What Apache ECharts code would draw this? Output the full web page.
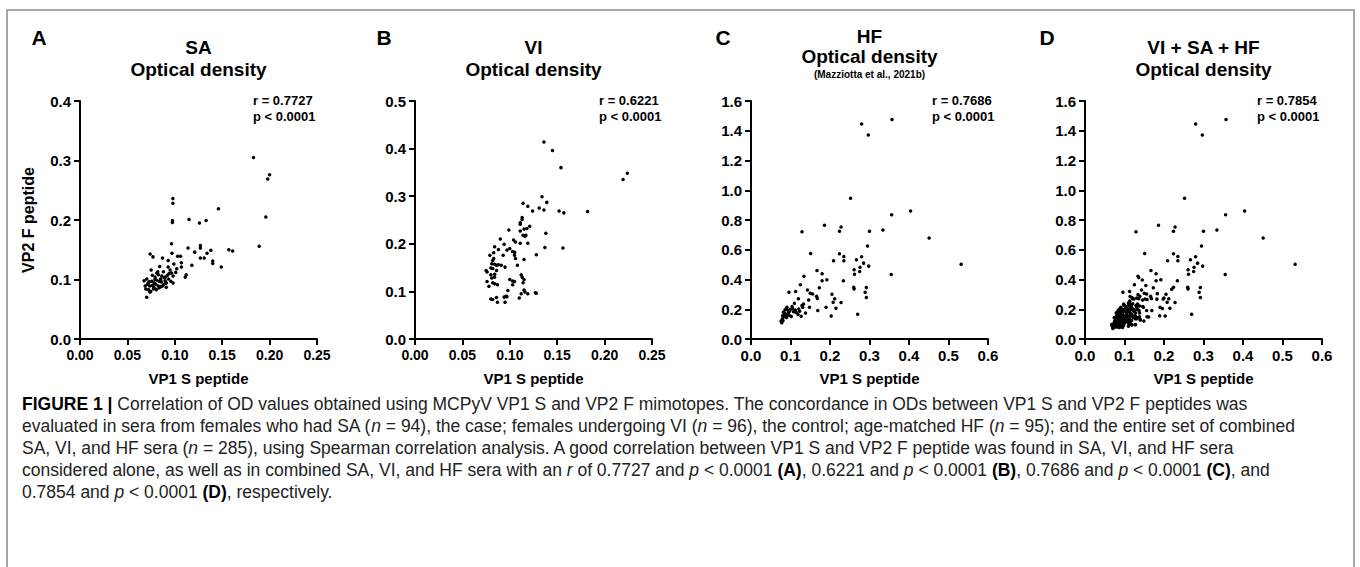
<!DOCTYPE html>
<html>
<head>
<meta charset="utf-8">
<script src="https://cdn.jsdelivr.net/npm/echarts/dist/echarts.min.js"></script>
<style>
  html, body { margin: 0; padding: 0; background: #fff; }
  #chart { width: 1360px; height: 567px; }
</style>
</head>
<body>
<div id="chart"></div>
<script>
// ---------- DATA ----------
const panelLetters = ['A', 'B', 'C', 'D'];
const panelTitles = ['SA\nOptical density', 'VI\nOptical density', 'HF\nOptical density', 'VI + SA + HF\nOptical density'];
const stats = [['r = 0.7727', 'p < 0.0001'], ['r = 0.6221', 'p < 0.0001'], ['r = 0.7686', 'p < 0.0001'], ['r = 0.7854', 'p < 0.0001']];
const xAxisName = 'VP1 S peptide';
const yAxisName = 'VP2 F peptide';
const xMax = [0.25, 0.25, 0.6, 0.6];
const xStep = [0.05, 0.05, 0.1, 0.1];
const yMax = [0.4, 0.5, 1.6, 1.6];
const yStep = [0.1, 0.1, 0.2, 0.2];

// SA (n = 94)
const saX = [0.098,0.098,0.0975,0.0975,0.146,0.115,0.126,0.133,0.0965,0.114,0.127,0.127,0.138,0.157,0.161,0.074,0.077,0.087,0.097,0.103,0.106,0.121,0.134,0.127,0.131,0.140,0.140,0.149,0.093,0.099,0.107,0.107,0.118,0.112,0.111,0.084,0.093,0.102,0.075,0.081,0.183,0.200,0.198,0.196,0.189,
  0.0676,0.0704,0.0764,0.0792,0.0827,0.0863,0.0887,0.0922,0.0940,0.0965,0.0982,0.0729,0.0757,0.0782,0.0806,0.0834,0.0859,0.0898,0.0933,0.0958,0.0687,0.0711,0.0736,0.0764,0.0799,0.0827,0.0852,0.0887,0.0912,0.0694,0.0722,0.0746,0.0775,0.0806,0.0834,0.0870,0.0982,0.0736,0.0704,
  0.079,0.085,0.090,0.072,0.082,0.088,0.095,0.078,0.101,0.091];
const saY = [0.236,0.228,0.199,0.196,0.219,0.201,0.195,0.199,0.160,0.153,0.157,0.153,0.149,0.150,0.148,0.143,0.138,0.136,0.144,0.139,0.139,0.146,0.144,0.136,0.136,0.131,0.127,0.121,0.132,0.126,0.128,0.121,0.124,0.108,0.104,0.122,0.121,0.118,0.116,0.111,0.305,0.276,0.269,0.205,0.156,
  0.098,0.101,0.107,0.104,0.108,0.106,0.103,0.107,0.110,0.111,0.106,0.096,0.097,0.094,0.099,0.097,0.096,0.098,0.101,0.097,0.089,0.092,0.089,0.090,0.092,0.089,0.088,0.092,0.094,0.084,0.083,0.080,0.084,0.083,0.086,0.089,0.094,0.079,0.070,
  0.100,0.101,0.104,0.094,0.113,0.113,0.116,0.087,0.112,0.087];

// VI (n = 96)
const viX = [0.136,0.145,0.154,0.134,0.114,0.119,0.139,0.131,0.136,0.124,0.152,0.157,0.113,0.113,0.111,0.111,0.121,0.118,0.115,0.099,0.111,0.114,0.116,0.117,0.138,0.090,0.104,0.106,0.111,0.119,0.084,0.094,0.137,0.156,0.088,0.097,0.100,0.103,0.105,0.083,0.079,0.128,0.093,0.105,0.083,0.082,0.115,0.106,0.081,0.084,0.086,0.088,0.091,0.095,0.108,0.080,0.082,0.075,0.076,0.086,0.080,0.084,0.112,0.113,0.081,0.084,0.100,0.103,0.105,0.115,0.114,0.076,0.082,0.084,0.078,0.087,0.103,0.098,0.115,0.116,0.112,0.119,0.127,0.128,0.080,0.082,0.086,0.087,0.094,0.096,0.095,0.097,0.110,0.2195,0.224,0.182];
const viY = [0.414,0.396,0.360,0.299,0.285,0.279,0.287,0.275,0.271,0.269,0.269,0.265,0.255,0.251,0.244,0.241,0.237,0.232,0.231,0.229,0.227,0.218,0.216,0.218,0.222,0.210,0.208,0.204,0.201,0.201,0.194,0.199,0.192,0.191,0.188,0.187,0.190,0.184,0.182,0.181,0.176,0.177,0.176,0.176,0.169,0.165,0.167,0.169,0.158,0.157,0.155,0.156,0.155,0.151,0.155,0.149,0.148,0.144,0.141,0.144,0.135,0.136,0.135,0.130,0.128,0.130,0.125,0.122,0.121,0.125,0.118,0.121,0.118,0.116,0.111,0.114,0.114,0.102,0.103,0.099,0.095,0.095,0.097,0.096,0.084,0.083,0.087,0.077,0.088,0.090,0.077,0.089,0.086,0.335,0.348,0.268];

// HF (n = 95)
const hfX = [0.280,0.357,0.297,0.252,0.404,0.356,0.186,0.129,0.228,0.224,0.300,0.334,0.451,0.295,0.151,0.224,0.235,0.235,0.209,0.267,0.280,0.285,0.298,0.261,0.262,0.276,0.275,0.355,0.532,0.167,0.180,0.134,0.234,0.192,0.180,0.125,0.173,0.260,0.261,0.292,0.289,0.292,0.143,0.150,0.156,0.096,0.113,0.166,0.168,0.205,0.212,0.208,0.228,0.120,0.133,0.148,0.129,0.131,0.110,0.104,0.121,0.114,0.138,0.091,0.093,0.086,0.100,0.108,0.169,0.190,0.215,0.203,0.270,0.087,0.093,0.082,0.080,0.102,0.119,0.127,0.079,0.076,0.078,0.085,
  0.089,0.095,0.098,0.105,0.084,0.090,0.081,0.112,0.097,0.123,0.146];
const hfY = [1.445,1.476,1.371,0.946,0.861,0.836,0.764,0.721,0.753,0.724,0.724,0.733,0.679,0.625,0.575,0.573,0.555,0.526,0.526,0.533,0.553,0.510,0.490,0.465,0.436,0.483,0.454,0.434,0.503,0.461,0.438,0.422,0.391,0.398,0.391,0.364,0.344,0.348,0.337,0.346,0.315,0.279,0.330,0.308,0.303,0.315,0.319,0.288,0.272,0.301,0.270,0.247,0.245,0.270,0.236,0.213,0.225,0.213,0.240,0.218,0.202,0.180,0.175,0.213,0.195,0.195,0.200,0.184,0.191,0.213,0.207,0.155,0.166,0.169,0.162,0.180,0.157,0.151,0.164,0.153,0.135,0.119,0.110,0.164,
  0.205,0.178,0.188,0.205,0.150,0.145,0.125,0.195,0.160,0.186,0.262];

const captionLines = [
  '{b|FIGURE 1 |} Correlation of OD values obtained using MCPyV VP1 S and VP2 F mimotopes. The concordance in ODs between VP1 S and VP2 F peptides was',
  'evaluated in sera from females who had SA ({i|n} = 94), the case; females undergoing VI ({i|n} = 96), the control; age-matched HF ({i|n} = 95); and the entire set of combined',
  'SA, VI, and HF sera ({i|n} = 285), using Spearman correlation analysis. A good correlation between VP1 S and VP2 F peptide was found in SA, VI, and HF sera',
  'considered alone, as well as in combined SA, VI, and HF sera with an {i|r} of 0.7727 and {i|p} < 0.0001 {b|(A)}, 0.6221 and {i|p} < 0.0001 {b|(B)}, 0.7686 and {i|p} < 0.0001 {b|(C)}, and',
  '0.7854 and {i|p} < 0.0001 {b|(D)}, respectively.'
];

// ---------- BUILD ----------
const zip = (xs, ys) => xs.map((x, i) => [x, ys[i]]);
const seriesData = [
  zip(saX, saY),
  zip(viX, viY),
  zip(hfX, hfY),
  zip(saX.concat(viX, hfX), saY.concat(viY, hfY))
];

const FONT = '"Liberation Sans", Arial, Helvetica, sans-serif';
const gridLeft = [80, 415, 751, 1085];
const gridW = 237, gridTop = 101, gridH = 238;

const grid = gridLeft.map(l => ({ left: l, top: gridTop, width: gridW, height: gridH }));
const axisCommon = {
  type: 'value',
  axisLine: { show: true, lineStyle: { color: '#000', width: 2 } },
  axisTick: { show: true, length: 6, lineStyle: { color: '#000', width: 2 } },
  splitLine: { show: false },
  showMinLabel: true, showMaxLabel: true
};
const xAxis = gridLeft.map((_, i) => Object.assign({}, axisCommon, {
  gridIndex: i, min: 0, max: xMax[i], interval: xStep[i],
  axisLabel: { color: '#000', fontFamily: FONT, fontWeight: 'bold', fontSize: i < 2 ? 14 : 15, margin: 9,
    formatter: v => v.toFixed(i < 2 ? 2 : 1) },
  name: xAxisName, nameLocation: 'middle', nameGap: 32,
  nameTextStyle: { color: '#000', fontFamily: FONT, fontWeight: 'bold', fontSize: 15 }
}));
const yAxis = gridLeft.map((_, i) => Object.assign({}, axisCommon, {
  gridIndex: i, min: 0, max: yMax[i], interval: yStep[i],
  axisLabel: { color: '#000', fontFamily: FONT, fontWeight: 'bold', fontSize: 15, margin: 9,
    formatter: v => v.toFixed(1) },
  name: i === 0 ? yAxisName : '', nameLocation: 'middle', nameGap: 44,
  nameTextStyle: { color: '#000', fontFamily: FONT, fontWeight: 'bold', fontSize: 16 }
}));
const series = seriesData.map((d, i) => ({
  type: 'scatter', xAxisIndex: i, yAxisIndex: i, data: d,
  symbol: 'circle', symbolSize: 3.5, itemStyle: { color: '#000', opacity: 1 },
  silent: true, animation: false
}));

function txt(x, y, text, size, weight, align, extra) {
  return Object.assign({
    type: 'text', x: x, y: y, silent: true,
    style: {
      text: text, fill: '#000', fontFamily: FONT, fontSize: size, fontWeight: weight,
      align: align, verticalAlign: 'middle', textAlign: align, textVerticalAlign: 'middle'
    }
  }, extra || {});
}

const graphic = [];
// frame
graphic.push({ type: 'rect', silent: true, shape: { x: 7, y: 10, width: 1347, height: 600 },
  style: { fill: 'none', stroke: '#8c8c8c', lineWidth: 1.5 } });
const letterX = [39, 384, 723, 1047];
panelLetters.forEach((L, i) => graphic.push(txt(letterX[i], 37, L, 21, 'bold', 'center')));
// titles
const titleY = [[47, 69], [47, 69], [36, 56], [47, 69]];
panelTitles.forEach((t, i) => {
  const parts = t.split('\n');
  const cx = gridLeft[i] + gridW / 2;
  graphic.push(txt(cx, titleY[i][0], parts[0], 19, 'bold', 'center'));
  graphic.push(txt(cx, titleY[i][1], parts[1], 19, 'bold', 'center'));
});
graphic.push(txt(gridLeft[2] + gridW / 2, 74, '(Mazziotta et al., 2021b)', 10, 'bold', 'center'));
// stats
const statX = [253, 599, 932, 1257];
stats.forEach((s, i) => {
  graphic.push(txt(statX[i], 100, s[0], 13, 'bold', 'left'));
  graphic.push(txt(statX[i], 116, s[1], 13, 'bold', 'left'));
});
// caption
const capSize = 17.5;
const rich = {
  b: { fontFamily: FONT, fontSize: capSize, fontWeight: 'bold', fill: '#000', color: '#000' },
  i: { fontFamily: FONT, fontSize: capSize, fontStyle: 'italic', fill: '#222', color: '#222' }
};
captionLines.forEach((line, k) => {
  graphic.push({
    type: 'text', x: 22, y: 404 + k * 22, silent: true,
    style: { text: line, rich: rich, fill: '#222', fontFamily: FONT, fontSize: capSize,
      align: 'left', verticalAlign: 'middle', textAlign: 'left', textVerticalAlign: 'middle' }
  });
});

const chart = echarts.init(document.getElementById('chart'), null, { renderer: 'svg', width: 1360, height: 567 });
chart.setOption({
  backgroundColor: '#fff',
  animation: false,
  grid: grid, xAxis: xAxis, yAxis: yAxis, series: series, graphic: graphic
});
</script>
</body>
</html>
